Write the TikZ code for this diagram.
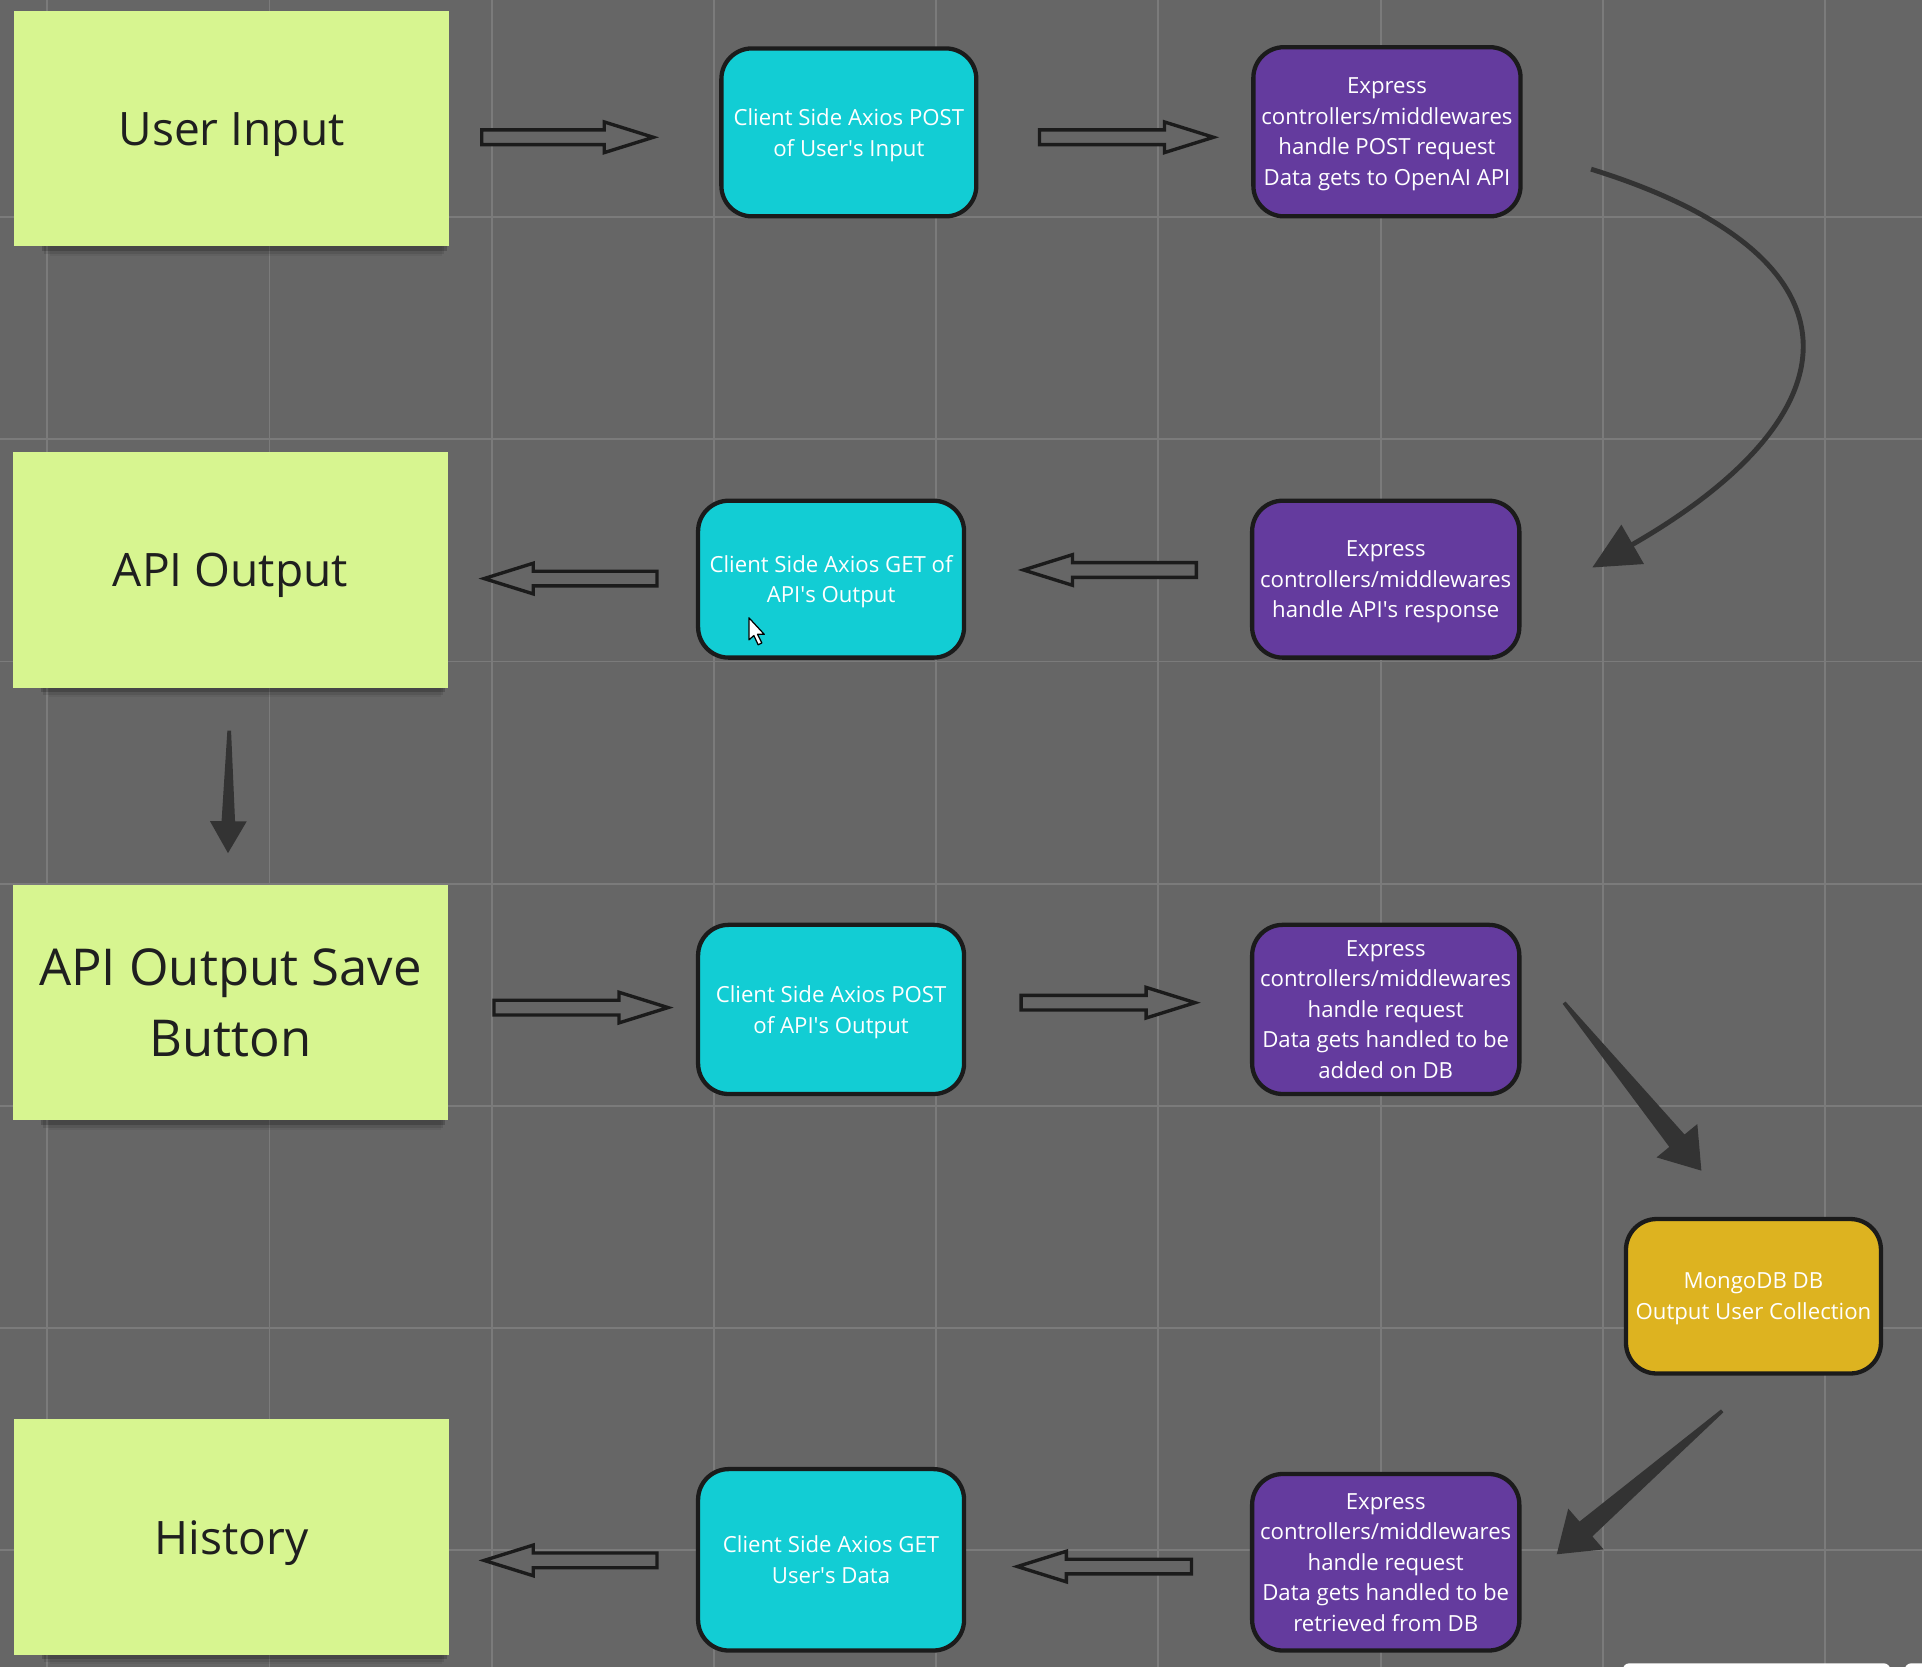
\documentclass[tikz,border=0pt]{standalone}
\usepackage{fontspec}
\setmainfont{Open Sans}
\usetikzlibrary{calc, arrows.meta, shadows}

\definecolor{canvas}{HTML}{666666}
\definecolor{gridgray}{HTML}{7B7B7B}
\definecolor{sticky}{HTML}{D7F590}
\definecolor{axios}{HTML}{12CDD4}
\definecolor{express}{HTML}{643B9E}
\definecolor{mongo}{HTML}{DDB320}
\definecolor{edge}{HTML}{1B1B1B}
\definecolor{darkarrow}{HTML}{333333}

\tikzset{
  gridline/.style={draw=gridgray, line width=0.3mm},
  note/.style={fill=sticky, minimum width=71mm, minimum height=38.4mm, align=center,
    text=black!88, text depth=0pt, font=\fontsize{21.4}{30}\selectfont,
    drop shadow={shadow xshift=2.2mm, shadow yshift=-2.2mm, shadow scale=0.93, opacity=0.18, fill=black},
    drop shadow={shadow xshift=2.2mm, shadow yshift=-3mm, shadow scale=0.92, opacity=0.1, fill=black},
    drop shadow={shadow xshift=2.6mm, shadow yshift=-3.8mm, shadow scale=0.9, opacity=0.05, fill=black}},
  bignote/.style={note, font=\fontsize{23.6}{33}\selectfont},
  card/.style={rounded corners=5mm, draw=edge, line width=0.7mm, align=center,
    text=white, text depth=0pt, font=\fontsize{10.3}{14.2}\selectfont},
  % arrow outline: head length, head half width, neck half width, tail half width
  arrowshape/.style n args={4}{to path={let \p1=($(\tikztotarget)-(\tikztostart)$), \n1={atan2(\y1,\x1)} in
    ($(\tikztostart)+(\n1+90:#4)$) -- ($(\tikztotarget)+(\n1+180:#1)+(\n1+90:#3)$)
    -- ($(\tikztotarget)+(\n1+180:#1)+(\n1+90:#2)$) -- (\tikztotarget)
    -- ($(\tikztotarget)+(\n1+180:#1)+(\n1-90:#2)$) -- ($(\tikztotarget)+(\n1+180:#1)+(\n1-90:#3)$)
    -- ($(\tikztostart)+(\n1-90:#4)$) -- cycle}},
  hollow/.style={draw=edge, fill=canvas, line width=0.55mm, line join=miter,
    arrowshape={8mm}{2.5mm}{1.2mm}{1.2mm}},
  bendarrow/.style={draw=darkarrow, line width=0.8mm, -{Triangle[length=7.6mm, width=7.2mm]}}
}

\begin{document}
\begin{tikzpicture}[x=0.2mm, y=-0.2mm]
  \useasboundingbox (0,0) rectangle (1568,1360);
  \clip (0,0) rectangle (1568,1360);
  \fill[canvas] (0,0) rectangle (1568,1360);

  % board grid
  \foreach \i in {0,...,8}
    \draw[gridline] ({38.5+181.3*\i},0) -- ({38.5+181.3*\i},1360);
  \foreach \j in {0,...,6}
    \draw[gridline] (0,{177+181.3*\j}) -- (1568,{177+181.3*\j});

  % sticky notes
  \node[note] (userin) at (189,105) {User Input};
  \node[note] (apiout) at (188,465) {API Output};
  \node[bignote] (savebtn) at (188,818) {API Output Save\\Button};
  \node[note] (history) at (189,1254) {History};

  % client side
  \node[card, fill=axios, minimum width=41.6mm, minimum height=27.4mm] (postin) at (692.5,108)
    {Client Side Axios POST\\of User\textquotesingle s Input};
  \node[card, fill=axios, minimum width=43.4mm, minimum height=25.6mm] (getout) at (678,472.5)
    {Client Side Axios GET of\\API\textquotesingle s Output};
  \node[card, fill=axios, minimum width=43.4mm, minimum height=27.6mm] (postout) at (678,823.5)
    {Client Side Axios POST\\of API\textquotesingle s Output};
  \node[card, fill=axios, minimum width=43.4mm, minimum height=29.6mm] (getdata) at (678,1272.5)
    {Client Side Axios GET\\User\textquotesingle s Data};

  % server side
  \node[card, fill=express, minimum width=43.6mm, minimum height=27.6mm] (expost) at (1131.5,107.5)
    {Express\\controllers/middlewares\\handle POST request\\Data gets to OpenAI API};
  \node[card, fill=express, minimum width=43.6mm, minimum height=25.6mm] (exresp) at (1130.5,472.5)
    {Express\\controllers/middlewares\\handle API\textquotesingle s response};
  \node[card, fill=express, minimum width=43.6mm, minimum height=27.6mm] (exsave) at (1130.5,823.5)
    {Express\\controllers/middlewares\\handle request\\Data gets handled to be\\added on DB};
  \node[card, fill=express, minimum width=43.6mm, minimum height=28.8mm] (exfetch) at (1130.5,1274.5)
    {Express\\controllers/middlewares\\handle request\\Data gets handled to be\\retrieved from DB};

  % database
  \node[card, fill=mongo, minimum width=41.6mm, minimum height=25.2mm] (mongo) at (1430.5,1057.5)
    {MongoDB DB\\Output User Collection};

  % arrow ends
  \coordinate (a1s) at (393,112);  \coordinate (a1e) at (533,112);
  \coordinate (a2s) at (848,112);  \coordinate (a2e) at (990,112);
  \coordinate (a3s) at (536,472);  \coordinate (a3e) at (395,472);
  \coordinate (a4s) at (976,465);  \coordinate (a4e) at (835,465);
  \coordinate (a5s) at (403,822);  \coordinate (a5e) at (545,822);
  \coordinate (a6s) at (833,818);  \coordinate (a6e) at (975,818);
  \coordinate (a7s) at (536,1273); \coordinate (a7e) at (395,1273);
  \coordinate (a8s) at (972,1278); \coordinate (a8e) at (830,1278);
  \coordinate (c1s) at (1298,138); \coordinate (c1e) at (1299,463);
  \coordinate (d1s) at (187,596);  \coordinate (d1e) at (186,696);
  \coordinate (d2s) at (1276,818); \coordinate (d2e) at (1388,955);
  \coordinate (d3s) at (1405,1151); \coordinate (d3e) at (1270,1268);

  \draw[hollow] (a1s) to (a1e);
  \draw[hollow] (a2s) to (a2e);
  \draw[hollow] (a3s) to (a3e);
  \draw[hollow] (a4s) to (a4e);
  \draw[hollow] (a5s) to (a5e);
  \draw[hollow] (a6s) to (a6e);
  \draw[hollow] (a7s) to (a7e);
  \draw[hollow] (a8s) to (a8e);

  \draw[bendarrow] (c1s) .. controls (1524,208) and (1522,335) .. (c1e);

  \fill[darkarrow, arrowshape={5.2mm}{3mm}{1.1mm}{0.3mm}] (d1s) to (d1e);
  \fill[darkarrow, arrowshape={6.3mm}{4.3mm}{1.6mm}{0.3mm}] (d2s) to (d2e);
  \fill[darkarrow, arrowshape={6.3mm}{4.4mm}{1.6mm}{0.3mm}] (d3s) to (d3e);

  % mouse pointer
  \draw[fill=white, draw=black, line width=0.2mm, line join=round]
    (611,504) -- (611,522) -- (615,518.5) -- (618.5,526) -- (621.5,524.5)
    -- (618,517.5) -- (623.5,517.5) -- cycle;

  % cut-off items at the lower edge
  \fill[white, rounded corners=1mm] (1324,1357) rectangle (1542,1375);
  \fill[white, rounded corners=1mm] (1554,1357) rectangle (1590,1375);
\end{tikzpicture}
\end{document}
